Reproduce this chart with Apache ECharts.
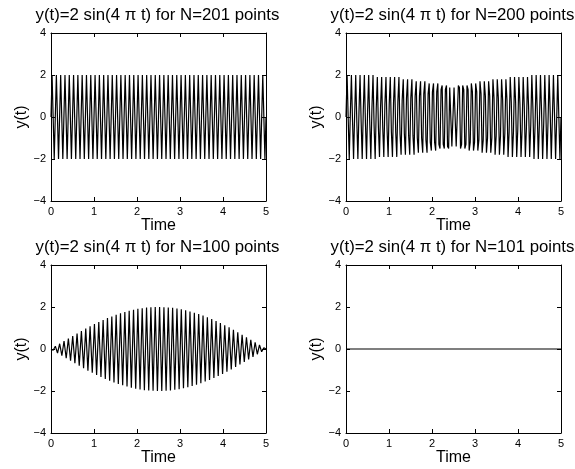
<!DOCTYPE html>
<html><head><meta charset="utf-8">
<script src="https://cdn.jsdelivr.net/npm/echarts@6/dist/echarts.min.js"></script>
<style>html,body{margin:0;padding:0;background:#fff}#c{width:575px;height:469px}</style>
</head><body><div id="c"></div>
<script>
// ---- data ----
const timeSpan = [0, 5];
const xTickLabels = ['0', '1', '2', '3', '4', '5'];
const yTickLabels = ['\u22124', '\u22122', '0', '2', '4'];
const panelTitles = [
  'y(t)=2 sin(4 \u03c0 t) for N=201 points',
  'y(t)=2 sin(4 \u03c0 t) for N=200 points',
  'y(t)=2 sin(4 \u03c0 t) for N=100 points',
  'y(t)=2 sin(4 \u03c0 t) for N=101 points'
];
const y201 = [
  0,2,0,-2, 0,2,0,-2, 0,2,0,-2, 0,2,0,-2, 0,2,0,-2, 0,2,0,-2, 0,2,0,-2, 0,2,0,-2, 0,2,0,-2, 0,2,0,-2,
  0,2,0,-2, 0,2,0,-2, 0,2,0,-2, 0,2,0,-2, 0,2,0,-2, 0,2,0,-2, 0,2,0,-2, 0,2,0,-2, 0,2,0,-2, 0,2,0,-2,
  0,2,0,-2, 0,2,0,-2, 0,2,0,-2, 0,2,0,-2, 0,2,0,-2, 0,2,0,-2, 0,2,0,-2, 0,2,0,-2, 0,2,0,-2, 0,2,0,-2,
  0,2,0,-2, 0,2,0,-2, 0,2,0,-2, 0,2,0,-2, 0,2,0,-2, 0,2,0,-2, 0,2,0,-2, 0,2,0,-2, 0,2,0,-2, 0,2,0,-2,
  0,2,0,-2, 0,2,0,-2, 0,2,0,-2, 0,2,0,-2, 0,2,0,-2, 0,2,0,-2, 0,2,0,-2, 0,2,0,-2, 0,2,0,-2, 0,2,0,-2,
  0
];
const y200 = [
  0,2,0,-2, 0.1,2,-0.1,-2, 0.1,2,-0.2,-2, 0.2,2,-0.2,-2, 0.3,2,-0.3,-2,
  0.3,2,-0.3,-2, 0.4,2,-0.4,-2, 0.4,1.9,-0.5,-1.9, 0.5,1.9,-0.5,-1.9, 0.6,1.9,-0.6,-1.9,
  0.6,1.9,-0.7,-1.9, 0.7,1.9,-0.7,-1.9, 0.7,1.9,-0.8,-1.8, 0.8,1.8,-0.8,-1.8, 0.9,1.8,-0.9,-1.8,
  0.9,1.8,-0.9,-1.8, 1.0,1.7,-1.0,-1.7, 1.0,1.7,-1.0,-1.7, 1.1,1.7,-1.1,-1.7, 1.1,1.6,-1.2,-1.6,
  1.2,1.6,-1.2,-1.6, 1.2,1.6,-1.3,-1.5, 1.3,1.5,-1.3,-1.5, 1.3,1.5,-1.4,-1.5, 1.4,1.4,-1.4,-1.4,
  1.4,1.4,-1.4,-1.4, 1.5,1.4,-1.5,-1.3, 1.5,1.3,-1.5,-1.3, 1.5,1.3,-1.6,-1.2, 1.6,1.2,-1.6,-1.2,
  1.6,1.2,-1.6,-1.1, 1.7,1.1,-1.7,-1.1, 1.7,1.0,-1.7,-1.0, 1.7,1.0,-1.7,-1.0, 1.8,0.9,-1.8,-0.9,
  1.8,0.9,-1.8,-0.9, 1.8,0.8,-1.8,-0.8, 1.8,0.8,-1.9,-0.7, 1.9,0.7,-1.9,-0.7, 1.9,0.7,-1.9,-0.6,
  1.9,0.6,-1.9,-0.6, 1.9,0.5,-1.9,-0.5, 1.9,0.5,-1.9,-0.4, 2,0.4,-2,-0.4, 2,0.3,-2,-0.3,
  2,0.3,-2,-0.3, 2,0.2,-2,-0.2, 2,0.2,-2,-0.1, 2,0.1,-2,-0.1, 2,0,-2,0
];
const y100 = [
  0,-0.06,0.13,-0.19,0.25,-0.32,0.38,-0.44,0.5,-0.56,
  0.62,-0.68,0.74,-0.8,0.86,-0.92,0.97,-1.03,1.08,-1.13,
  1.19,-1.24,1.29,-1.33,1.38,-1.43,1.47,-1.51,1.55,-1.59,
  1.63,-1.67,1.7,-1.73,1.76,-1.79,1.82,-1.84,1.87,-1.89,
  1.91,-1.93,1.94,-1.96,1.97,-1.98,1.99,-1.99,2,-2,
  2,-2,1.99,-1.99,1.98,-1.97,1.96,-1.94,1.93,-1.91,
  1.89,-1.87,1.84,-1.82,1.79,-1.76,1.73,-1.7,1.67,-1.63,
  1.59,-1.55,1.51,-1.47,1.43,-1.38,1.33,-1.29,1.24,-1.19,
  1.13,-1.08,1.03,-0.97,0.92,-0.86,0.8,-0.74,0.68,-0.62,
  0.56,-0.5,0.44,-0.38,0.32,-0.25,0.19,-0.13,0.06,0
];
const y101 = [
  0,0,0,0,0,0,0,0,0,0, 0,0,0,0,0,0,0,0,0,0, 0,0,0,0,0,0,0,0,0,0, 0,0,0,0,0,0,0,0,0,0,
  0,0,0,0,0,0,0,0,0,0, 0,0,0,0,0,0,0,0,0,0, 0,0,0,0,0,0,0,0,0,0, 0,0,0,0,0,0,0,0,0,0,
  0,0,0,0,0,0,0,0,0,0, 0,0,0,0,0,0,0,0,0,0, 0
];
const panelValues = [y201, y200, y100, y101];

// ---- layout ----
const FONT = '"Liberation Sans", Arial, Helvetica, sans-serif';
const boxes = [
  {left: 51, top: 33}, {left: 346, top: 33},
  {left: 51, top: 265}, {left: 346, top: 265}
];
const W = 215, H = 168;

function pairs(vals) {
  const n = vals.length;
  return vals.map((v, i) => [timeSpan[0] + (timeSpan[1] - timeSpan[0]) * i / (n - 1), v]);
}
const black = {color: '#000', width: 1};
const grid = [], xAxis = [], yAxis = [], series = [], title = [];
boxes.forEach((b, i) => {
  grid.push({left: b.left, top: b.top, width: W, height: H, containLabel: false});
  title.push({
    text: panelTitles[i], left: b.left + W / 2 - 1, top: b.top - 26, textAlign: 'center',
    padding: 0,
    textStyle: {fontFamily: FONT, fontSize: 16.8, fontWeight: 'normal', color: '#000'}
  });
  const xBase = {
    gridIndex: i, type: 'value', min: timeSpan[0], max: timeSpan[1], interval: 1,
    axisLine: {show: true, onZero: false, lineStyle: black},
    axisTick: {show: true, inside: true, length: 4, lineStyle: black},
    splitLine: {show: false}
  };
  xAxis.push(Object.assign({}, xBase, {
    position: 'bottom',
    axisLabel: {color: '#000', fontFamily: FONT, fontSize: 11, margin: 5,
      formatter: v => xTickLabels[Math.round(v - timeSpan[0])]},
    name: 'Time', nameLocation: 'middle', nameGap: 14,
    nameTextStyle: {color: '#000', fontFamily: FONT, fontSize: 16}
  }));
  xAxis.push(Object.assign({}, xBase, {position: 'top', axisLabel: {show: false}}));
  const yBase = {
    gridIndex: i, type: 'value', min: -4, max: 4, interval: 2,
    axisLine: {show: true, onZero: false, lineStyle: black},
    axisTick: {show: true, inside: true, length: 4, lineStyle: black},
    splitLine: {show: false}
  };
  yAxis.push(Object.assign({}, yBase, {
    position: 'left',
    axisLabel: {color: '#000', fontFamily: FONT, fontSize: 11, margin: 5,
      formatter: v => yTickLabels[Math.round((v + 4) / 2)]},
    name: 'y(t)', nameLocation: 'middle', nameGap: 18, nameRotate: 90,
    nameTextStyle: {color: '#000', fontFamily: FONT, fontSize: 16}
  }));
  yAxis.push(Object.assign({}, yBase, {position: 'right', axisLabel: {show: false}}));
  series.push({
    type: 'line', xAxisIndex: 2 * i, yAxisIndex: 2 * i,
    data: pairs(panelValues[i]), showSymbol: false, symbol: 'none',
    silent: true,
    lineStyle: {color: '#000', width: 1.2}
  });
});

const chart = echarts.init(document.getElementById('c'), null, {renderer: 'canvas'});
chart.setOption({
  backgroundColor: '#fff', animation: false,
  textStyle: {fontFamily: FONT},
  title, grid, xAxis, yAxis, series
});
</script>
</body></html>
